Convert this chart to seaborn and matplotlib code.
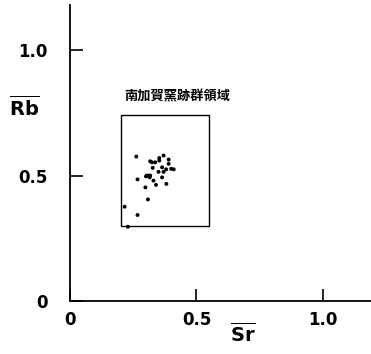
import matplotlib
matplotlib.use('Agg')
import matplotlib.pyplot as plt
import seaborn as sns
import pandas as pd
from matplotlib.patches import Rectangle

# 南加賀窯跡群の Sr / Rb 分布
sr = [0.262, 0.353, 0.353, 0.37, 0.317, 0.324, 0.337, 0.39, 0.39, 0.327,
      0.364, 0.38, 0.40, 0.41, 0.35, 0.37, 0.304, 0.31, 0.317, 0.30,
      0.315, 0.267, 0.33, 0.364, 0.34, 0.381, 0.298, 0.308, 0.216, 0.267, 0.229]
rb = [0.576, 0.57, 0.56, 0.58, 0.557, 0.553, 0.553, 0.564, 0.547, 0.531,
      0.533, 0.525, 0.527, 0.525, 0.515, 0.515, 0.50, 0.50, 0.50, 0.497,
      0.493, 0.485, 0.48, 0.493, 0.463, 0.467, 0.453, 0.405, 0.376, 0.343, 0.296]
region_x = (0.20, 0.55)
region_y = (0.30, 0.74)
region_name = '南加賀窯跡群領域'
ticks = [0, 0.5, 1.0]
tick_labels = ['0', '0.5', '1.0']

df = pd.DataFrame({'Sr': sr, 'Rb': rb})

sns.set_style('ticks')
plt.rcParams['font.family'] = ['DejaVu Sans', 'Noto Sans CJK JP']
plt.rcParams['text.color'] = 'black'
plt.rcParams['axes.labelcolor'] = 'black'
plt.rcParams['xtick.color'] = 'black'
plt.rcParams['ytick.color'] = 'black'
plt.rcParams['axes.edgecolor'] = 'black'

fig = plt.figure(figsize=(3.71, 3.54), dpi=100)
ax = fig.add_axes([0.1887, 0.1497, 0.8113, 0.836])

sns.scatterplot(data=df, x='Sr', y='Rb', ax=ax, color='black', s=8,
                edgecolor='none', legend=False)

ax.add_patch(Rectangle((region_x[0], region_y[0]), region_x[1] - region_x[0],
                       region_y[1] - region_y[0], fill=False,
                       edgecolor='black', linewidth=1.0))
ax.text(region_x[0] + 0.015, region_y[1] + 0.075, region_name,
        family=['Noto Sans CJK JP', 'DejaVu Sans'], fontsize=9.5,
        fontweight='bold', ha='left', va='center')

ax.set_xlim(0, 1.19)
ax.set_ylim(0, 1.18)
ax.set_xticks(ticks)
ax.set_xticklabels(tick_labels, fontweight='bold')
ax.set_yticks(ticks)
ax.set_yticklabels(tick_labels, fontweight='bold')
ax.tick_params(direction='in', length=9, width=1.2, labelsize=12)
ax.tick_params(axis='y', pad=16)
ax.tick_params(axis='x', pad=7)
sns.despine(ax=ax)
for s in ['left', 'bottom']:
    ax.spines[s].set_linewidth(1.3)

ax.set_xlabel(r'$\overline{\mathbf{Sr}}$', fontsize=14, va='top')
ax.set_ylabel(r'$\overline{\mathbf{Rb}}$', fontsize=14, rotation=0,
              va='center', ha='center')
ax.xaxis.set_label_coords(0.575, -0.07)
ax.yaxis.set_label_coords(-0.15, 0.655)

fig.savefig('out.png', dpi=100)
